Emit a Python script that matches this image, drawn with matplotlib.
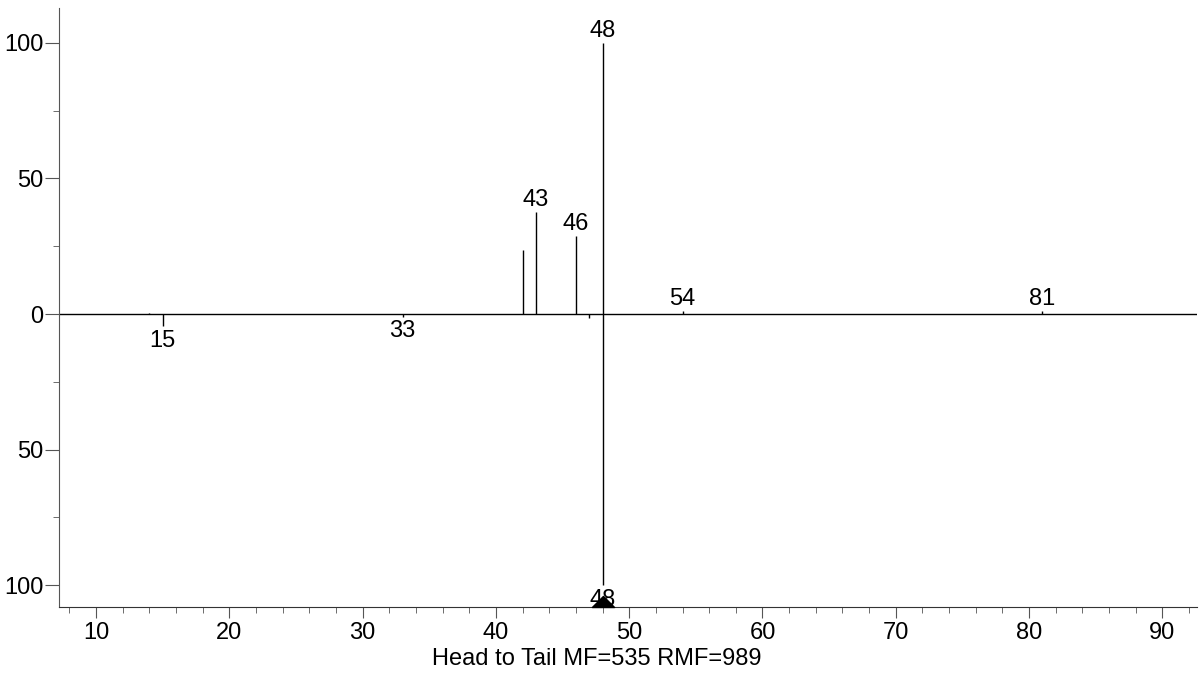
import numpy as np
import matplotlib
matplotlib.use("Agg")
import matplotlib.pyplot as plt
from matplotlib.path import Path

plt.rcParams['font.family'] = ['Liberation Sans', 'DejaVu Sans']

# head spectrum (upper)
head_mz = [14, 42, 43, 46, 48, 54, 81]
head_int = [0.5, 23.6, 37.6, 28.8, 100, 1.0, 1.0]
head_labels = {43: "43", 46: "46", 48: "48", 54: "54", 81: "81"}

# tail spectrum (lower, drawn downward)
tail_mz = [15, 33, 47, 48]
tail_int = [4.5, 1.0, 1.5, 100]
tail_labels = {15: "15", 33: "33", 48: "48"}

title_text = "Head to Tail MF=535 RMF=989"

fig = plt.figure(figsize=(12, 6.73), dpi=100)
ax = fig.add_axes([59/1200, 1 - 607/673, (1197-59)/1200, (607-8)/673])

ax.vlines(head_mz, 0, head_int, color='black', lw=1)
ax.vlines(tail_mz, 0, -np.array(tail_int), color='black', lw=1)
ax.axhline(0, color='black', lw=1)

fs = 17
for mz, h in zip(head_mz, head_int):
    if mz in head_labels:
        ax.text(mz, h + 0.5, head_labels[mz], ha='center', va='bottom', fontsize=fs)
for mz, h in zip(tail_mz, tail_int):
    if mz in tail_labels:
        ax.text(mz, -h - 1.3, tail_labels[mz], ha='center', va='top', fontsize=fs)

# flat triangle marking the base peak on the x axis
tri = Path([(-1, 0), (1, 0), (0, 1), (-1, 0)],
           [Path.MOVETO, Path.LINETO, Path.LINETO, Path.CLOSEPOLY])
ax.plot(48, -108.1, marker=tri, color='black', markersize=16, clip_on=False, zorder=5)

ax.set_xlim(7.22, 92.6)
ax.set_ylim(-108.1, 112.9)

ax.set_xticks(np.arange(10, 100, 10))
ax.set_xticks(np.arange(8, 93, 2), minor=True)
ax.set_yticks([-100, -50, 0, 50, 100])
ax.set_yticks([-75, -25, 25, 75], minor=True)
ax.set_yticklabels(["100", "50", "0", "50", "100"])

ax.tick_params(axis='both', which='major', labelsize=fs, length=8, color='#555555', pad=3)
ax.tick_params(axis='both', which='minor', length=4, color='#555555')
ax.tick_params(axis='y', which='major', length=10, pad=1)

for s in ['top', 'right']:
    ax.spines[s].set_visible(False)
ax.spines['left'].set_color('#555555')
ax.spines['bottom'].set_color('#333333')

fig.text(597/1200, 1 - 659/673, title_text, ha='center', va='center', fontsize=fs)

fig.savefig("out.png", dpi=100)
